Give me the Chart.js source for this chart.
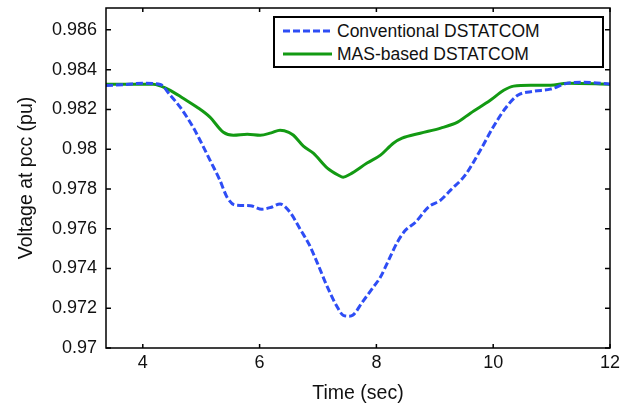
<!DOCTYPE html>
<html>
<head>
<meta charset="utf-8">
<script src="https://cdn.jsdelivr.net/npm/chart.js@4/dist/chart.umd.min.js"></script>
<style>
  body { margin: 0; background: #fff; }
  #wrap { position: relative; width: 626px; height: 407px; }
  #legend {
    position: absolute; left: 273px; top: 16px; width: 331px; height: 52px;
    box-sizing: border-box; border: 2px solid #000; background: #fff;
    font-family: "Liberation Sans", Arial, sans-serif; font-size: 17.5px; color: #111;
  }
  #legend .row { position: absolute; left: 8px; height: 22px; display: flex; align-items: center; }
  #legend svg { margin-right: 5px; }
</style>
</head>
<body>
<div id="wrap">
  <canvas id="myChart" width="626" height="407"></canvas>
  <div id="legend"></div>
</div>
<script>
// series
var convTime = [3.37, 3.70, 4.00, 4.30, 4.47, 4.64, 4.86, 4.98, 5.15, 5.32, 5.44, 5.58, 5.84, 6.04, 6.20, 6.35, 6.52, 6.70, 6.85, 6.99,
                7.16, 7.33, 7.43, 7.52, 7.60, 7.76, 7.95, 8.07, 8.21, 8.36, 8.50, 8.67, 8.89, 9.10, 9.27, 9.52, 9.78, 10.00,
                10.21, 10.42, 10.69, 10.98, 11.27, 11.55, 12.00];
var convVolt = [0.98320, 0.98325, 0.98332, 0.98325, 0.98271, 0.98211, 0.98111, 0.98045, 0.97945, 0.97844, 0.97760, 0.97719, 0.97716,
                0.97698, 0.97708, 0.97724, 0.97683, 0.97595, 0.97520, 0.97427, 0.97307, 0.97206, 0.97165, 0.97160, 0.97166,
                0.97231, 0.97307, 0.97357, 0.97442, 0.97533, 0.97593, 0.97633, 0.97709, 0.97744, 0.97794, 0.97869, 0.97995,
                0.98111, 0.98206, 0.98271, 0.98291, 0.98302, 0.98332, 0.98337, 0.98327];
var masTime = [3.37, 4.00, 4.18, 4.30, 4.47, 4.69, 4.93, 5.15, 5.38, 5.55, 5.79, 6.01, 6.20, 6.35, 6.50, 6.58, 6.75, 6.92, 7.16, 7.35,
               7.43, 7.55, 7.84, 8.07, 8.29, 8.44, 8.75, 9.10, 9.39, 9.61, 9.95, 10.18, 10.35, 10.64, 10.98, 11.27, 12.00];
var masVolt = [0.98327, 0.98327, 0.98327, 0.98318, 0.98296, 0.98256, 0.98211, 0.98161, 0.98085, 0.98070, 0.98075, 0.98070, 0.98082,
               0.98095, 0.98085, 0.98070, 0.98015, 0.97980, 0.97905, 0.97869, 0.97859, 0.97874, 0.97930, 0.97970, 0.98030,
               0.98055, 0.98080, 0.98106, 0.98136, 0.98181, 0.98246, 0.98296, 0.98317, 0.98322, 0.98322, 0.98332, 0.98327];
var seriesNames = ['Conventional DSTATCOM', 'MAS-based DSTATCOM'];
var xTicks = [4, 6, 8, 10, 12];
var yTicks = [0.97, 0.972, 0.974, 0.976, 0.978, 0.98, 0.982, 0.984, 0.986];

var FONT = '"Liberation Sans", Arial, sans-serif';
var toPoints = (xs, ys) => xs.map((x, i) => ({x: x, y: ys[i]}));

// MATLAB style frame with small inward ticks
var framePlugin = {
    id: 'frame',
    afterDatasetsDraw: function (chart) {
        var ctx = chart.ctx, a = chart.chartArea;
        var sx = chart.scales.x, sy = chart.scales.y;
        ctx.save();
        ctx.strokeStyle = '#000';
        ctx.lineWidth = 1.5;
        ctx.strokeRect(a.left, a.top, a.right - a.left, a.bottom - a.top);
        ctx.beginPath();
        xTicks.forEach(function (v) {
            var px = sx.getPixelForValue(v);
            ctx.moveTo(px, a.bottom); ctx.lineTo(px, a.bottom - 4);
            ctx.moveTo(px, a.top); ctx.lineTo(px, a.top + 4);
        });
        yTicks.forEach(function (v) {
            var py = sy.getPixelForValue(v);
            ctx.moveTo(a.left, py); ctx.lineTo(a.left + 5, py);
            ctx.moveTo(a.right, py); ctx.lineTo(a.right - 5, py);
        });
        ctx.stroke();
        ctx.restore();
    }
};

var datasets = [{
    label: seriesNames[0],
    data: toPoints(convTime, convVolt),
    borderColor: '#2e4df5',
    borderWidth: 3,
    borderDash: [7, 3],
    pointRadius: 0,
    cubicInterpolationMode: 'monotone',
    fill: false
}, {
    label: seriesNames[1],
    data: toPoints(masTime, masVolt),
    borderColor: '#139a13',
    borderWidth: 3,
    pointRadius: 0,
    cubicInterpolationMode: 'monotone',
    fill: false
}];

var ctx = document.getElementById('myChart').getContext('2d');
new Chart(ctx, {
    type: 'line',
    data: { datasets: datasets },
    plugins: [framePlugin],
    options: {
        responsive: false,
        animation: false,
        layout: { padding: { left: 0, right: 16, top: 8, bottom: 0 } },
        plugins: { legend: { display: false }, tooltip: { enabled: false } },
        scales: {
            x: {
                type: 'linear',
                min: 3.37,
                max: 12,
                grid: { display: false, drawTicks: false },
                border: { display: false },
                afterBuildTicks: function (s) { s.ticks = xTicks.map(v => ({value: v})); },
                afterFit: function (s) { s.height = 59; s.paddingLeft = 0; s.paddingRight = 0; },
                ticks: { color: '#111', padding: 4, font: { family: FONT, size: 18 } },
                title: { display: true, text: 'Time (sec)', color: '#111', padding: { top: 0, bottom: 2 }, font: { family: FONT, size: 19.5 } }
            },
            y: {
                min: 0.97,
                max: 0.9871,
                grid: { display: false, drawTicks: false },
                border: { display: false },
                afterBuildTicks: function (s) { s.ticks = yTicks.map(v => ({value: v})); },
                afterFit: function (s) { s.width = 106; s.paddingTop = 0; s.paddingBottom = 0; },
                ticks: { color: '#111', padding: 9, font: { family: FONT, size: 18 }, callback: v => String(v) },
                title: { display: true, text: 'Voltage at pcc (pu)', color: '#111', padding: { top: 15, bottom: 0 }, font: { family: FONT, size: 19.5 } }
            }
        }
    }
});

// legend box drawn as html, built from the datasets
var legend = document.getElementById('legend');
datasets.forEach(function (d, i) {
    var row = document.createElement('div');
    row.className = 'row';
    row.style.top = (2 + i * 23) + 'px';
    var dash = d.borderDash ? ' stroke-dasharray="' + d.borderDash.join(',') + '"' : '';
    row.innerHTML = '<svg width="49" height="6"><line x1="0" y1="3" x2="49" y2="3" stroke="' + d.borderColor +
        '" stroke-width="3"' + dash + '/></svg><span>' + d.label + '</span>';
    legend.appendChild(row);
});
</script>
</body>
</html>
